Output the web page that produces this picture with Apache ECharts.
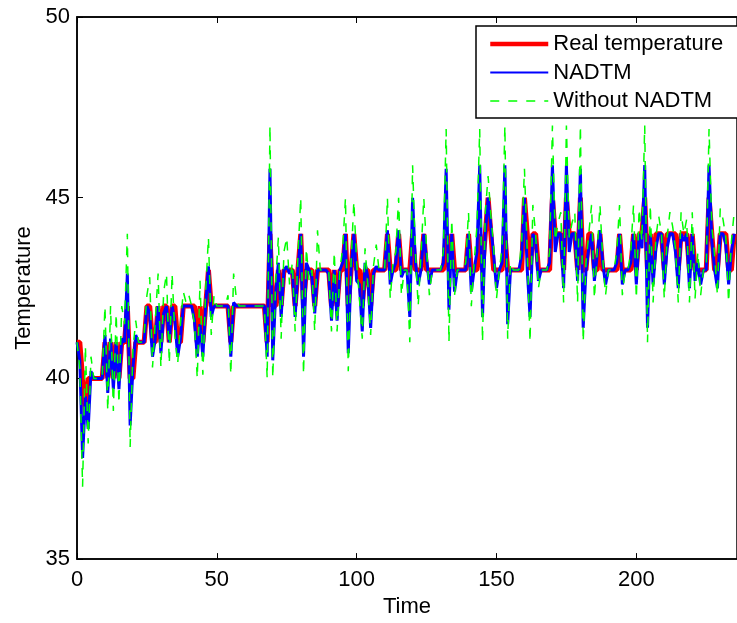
<!DOCTYPE html>
<html>
<head>
<meta charset="utf-8">
<script src="https://cdn.jsdelivr.net/npm/echarts@6/dist/echarts.min.js"></script>
<style>
html,body{margin:0;padding:0;background:#fff;}
#chart{width:737px;height:623px;}
</style>
</head>
<body>
<div id="chart"></div>
<script>
// Time index 0..235
var realTemp = [
41,41,40,39,40,40,40,40,40,40,
41,40,41,40,41,40,41,41,42,40,
40,41,41,41,41,42,42,41,41,42,
41,42,42,41,42,42,41,41,42,42,
42,42,42,41,42,41,42,43,42,42,
42,42,42,42,42,41,42,42,42,42,
42,42,42,42,42,42,42,42,41,44,
42,42,43,42,43,43,43,43,42,43,
44,42,43,43,43,42,43,43,43,43,
43,42,43,42,43,43,44,42,43,44,
43,43,42,43,43,42,43,43,43,43,
43,44,43,43,43,44,43,43,43,43,
44,43,43,43,44,43,43,43,43,43,
43,43,44,43,44,43,43,43,43,43,
44,43,43,43,44,43,44,45,44,43,
43,43,43,44,43,43,43,43,43,43,
45,44,43,44,44,43,43,43,43,43,
45,44,44,44,43,45,44,44,44,43,
45,43,43,44,44,43,43,44,43,43,
43,43,43,43,44,43,43,43,43,44,
43,44,44,45,43,44,43,44,44,44,
43,44,44,44,44,43,44,44,44,43,
44,43,43,43,43,43,45,44,43,43,
44,44,44,43,43,44
];
var nadtm = [
41,40.5,37.8,39.5,38.6,40.2,40,40,40,40,
41.2,39.6,41.1,39.7,41.0,39.7,41.1,41.0,42.9,38.7,
40.3,41.2,41.0,41.0,41.0,42.0,41.8,40.6,41.1,42.0,
40.7,41.8,42.0,41.0,42.0,41.6,40.6,41.1,42.0,42.0,
42.0,42.0,41.6,40.6,41.5,40.6,42.0,43.1,41.7,42.0,
42,42,42,42,42.0,40.6,42.1,42,42,42,
42,42,42,42,42,42,42,42,40.6,45.8,
40.5,42.3,43.2,41.7,43.0,43.1,42.9,43.0,41.7,43.0,
44.0,40.6,43.2,43.0,42.8,41.8,43.0,43.0,43.0,43.0,
42.9,41.6,43.0,41.6,43.0,43.2,44.0,40.7,43.0,44.0,
42.7,42.6,41.3,43.2,42.8,41.4,42.9,43.1,43.0,43.0,
43.0,44.1,42.6,43.0,43.2,44.1,42.8,43.0,43.0,41.7,
45.0,43.2,42.6,43.0,44.0,43.3,42.6,43.0,43.0,43.0,
43.0,43.2,45.8,41.9,44.0,42.4,43.0,43.0,43.0,43.0,
44.0,42.4,43.0,43.5,45.9,41.7,44.0,45.0,44.2,43.4,
42.5,43.0,43.2,45.9,41.5,43.0,43.0,43.0,43.0,43.4,
45.0,43.0,41.7,44.0,43.8,42.7,43.0,43.0,43.0,43.2,
45.9,43.5,44.0,44.0,42.5,45.9,43.5,44.0,44.0,42.7,
45.8,41.4,43.0,43.6,44.0,42.7,43.4,44.1,43.2,42.6,
43.0,43.0,43.0,43.2,44.0,42.6,43.0,43.0,43.2,44.0,
42.6,44.0,43.6,45.9,41.4,44.0,42.6,43.6,44.0,44.0,
42.6,43.6,44.0,44.0,43.5,42.5,44.0,43.8,44.0,42.5,
44.0,42.7,43.2,42.6,43.0,43.0,45.9,43.8,43.0,42.5,
44.0,44.0,43.7,42.6,43.5,44.0
];
var withoutNadtm = [
41,40.3,37.0,40.9,38.2,40.6,40,40,40,40,
42.0,39.1,42.0,39.1,41.8,39.3,42.0,41.5,44.0,38.1,
40.8,41.6,41.0,41.0,41.2,42.3,42.8,40.3,41.6,42.9,
40.3,42.4,42.9,40.4,42.9,41.2,40.4,41.5,42.4,42.1,
42.3,42.0,41.5,40.0,42.7,40.1,42.4,43.9,41.2,42.3,
42,42,42,42,42.3,40.1,42.9,42.2,42,42,
42,42,42,42,42,42,42,42,40.0,47.0,
40.0,42.6,43.9,41.1,43.5,43.9,42.6,43.2,41.3,43.4,
45.0,40.1,43.6,42.7,43.0,41.3,44.1,43.0,43.0,43.0,
43.0,41.3,43.5,41.3,43.0,43.6,45.0,40.2,43.2,44.9,
43.2,42.2,41.1,43.6,42.6,41.2,43.1,43.7,43.0,43.0,
43.0,45.0,42.2,43.2,43.5,45.0,42.3,43.0,43.0,41.0,
45.9,43.5,42.0,43.4,45.0,43.6,42.3,43.0,43.0,43.0,
43.0,43.5,46.9,41.0,44.4,42.3,43.0,43.0,43.0,43.2,
44.6,42.0,43.2,44.2,46.9,41.0,44.6,45.6,44.5,43.6,
42.2,43.0,43.6,47.0,41.1,43.2,43.0,43.0,43.0,43.8,
45.8,43.5,41.0,44.8,44.0,42.5,43.0,43.0,43.0,43.5,
47.0,43.8,44.3,44.6,42.1,47.0,43.9,44.3,44.6,42.1,
47.0,41.0,43.2,44.0,44.8,42.2,43.5,44.8,43.3,42.3,
43.0,43.0,43.0,43.5,44.8,42.3,43.0,43.0,43.5,44.8,
42.2,44.7,43.8,47.0,41.0,44.8,42.1,43.9,44.5,44.0,
42.2,43.9,44.6,44.2,43.6,42.1,44.6,44.0,44.4,42.1,
44.6,42.2,43.5,42.3,43.0,43.0,46.9,44.2,43.4,42.3,
44.7,44.4,43.9,42.1,43.8,44.6
];
var seriesNames = ['Real temperature', 'NADTM', 'Without NADTM'];
var xTicks = [0, 50, 100, 150, 200];
var yTicks = [35, 40, 45, 50];

function pairs(arr){ return arr.map(function(v,i){ return [i, v]; }); }

var font = 'Liberation Sans, Arial, Helvetica, sans-serif';
var chart = echarts.init(document.getElementById('chart'), null, {renderer:'canvas'});
chart.setOption({
  animation: false,
  backgroundColor: '#fff',
  grid: {left: 77, top: 17, right: -3, bottom: 60, show: true, borderColor: '#000', borderWidth: 1.5, backgroundColor: 'transparent'},
  legend: {
    orient: 'vertical',
    left: 476, top: 26,
    padding: [6, 60, 5, 12],
    itemWidth: 58, itemHeight: 14, itemGap: 4.5,
    backgroundColor: '#fff',
    borderColor: '#000', borderWidth: 1.5,
    itemStyle: {opacity: 0, borderWidth: 0},
    textStyle: {fontFamily: font, fontSize: 22, color: '#000', lineHeight: 24},
    data: [
      {name: seriesNames[0], lineStyle: {color: '#ff0000', width: 4.5, type: 'solid', opacity: 1}},
      {name: seriesNames[1], lineStyle: {color: '#0000ff', width: 2, type: 'solid', opacity: 1}},
      {name: seriesNames[2], lineStyle: {color: '#00ff00', width: 1.5, type: [9, 9], opacity: 1}}
    ]
  },
  xAxis: [{
    type: 'value', min: 0, max: 236, interval: 50,
    name: 'Time', nameLocation: 'middle', nameGap: 32,
    nameTextStyle: {fontFamily: font, fontSize: 22, color: '#000'},
    axisLine: {show: true, lineStyle: {color: '#000', width: 1.5}},
    axisTick: {show: true, inside: true, length: 6, lineStyle: {color: '#000', width: 1}},
    axisLabel: {fontFamily: font, fontSize: 22, color: '#000', margin: 10, showMaxLabel: false,
      formatter: function(v){ return xTicks.indexOf(v) >= 0 ? String(v) : ''; }},
    splitLine: {show: false}
  }, {
    type: 'value', min: 0, max: 236, interval: 50, position: 'top',
    axisLine: {show: true, lineStyle: {color: '#000', width: 1.5}},
    axisTick: {show: true, inside: true, length: 6, lineStyle: {color: '#000', width: 1}},
    axisLabel: {show: false}, splitLine: {show: false}
  }],
  yAxis: [{
    type: 'value', min: 35, max: 50, interval: 5,
    name: 'Temperature', nameLocation: 'middle', nameGap: 41,
    nameTextStyle: {fontFamily: font, fontSize: 22, color: '#000'},
    axisLine: {show: true, lineStyle: {color: '#000', width: 1.5}},
    axisTick: {show: true, inside: true, length: 6, lineStyle: {color: '#000', width: 1}},
    axisLabel: {fontFamily: font, fontSize: 22, color: '#000', margin: 7,
      formatter: function(v){ return yTicks.indexOf(v) >= 0 ? String(v) : ''; }},
    splitLine: {show: false}
  }],
  series: [
    {name: seriesNames[0], type: 'line', data: pairs(realTemp), symbol: 'none', showSymbol: false,
     lineStyle: {color: '#ff0000', width: 5}, itemStyle: {color: '#ff0000'}, z: 2},
    {name: seriesNames[1], type: 'line', data: pairs(nadtm), symbol: 'none', showSymbol: false,
     lineStyle: {color: '#0000ff', width: 3}, itemStyle: {color: '#0000ff'}, z: 3},
    {name: seriesNames[2], type: 'line', data: pairs(withoutNadtm), symbol: 'none', showSymbol: false,
     lineStyle: {color: '#00ff00', width: 1.5, type: [9, 9]}, itemStyle: {color: '#00ff00'}, z: 4}
  ]
});
</script>
</body>
</html>
